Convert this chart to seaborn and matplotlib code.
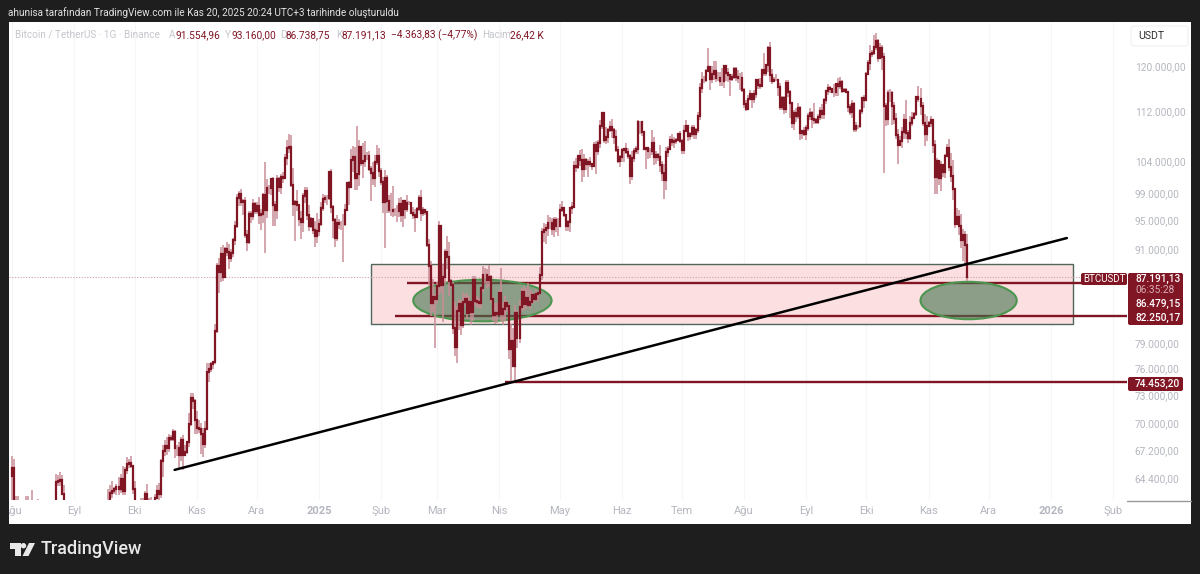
import numpy as np
import pandas as pd
import matplotlib
matplotlib.use('Agg')
import matplotlib.pyplot as plt
from matplotlib.patches import Rectangle, Ellipse, FancyBboxPatch, Polygon, Circle
from matplotlib.ticker import NullLocator
from matplotlib.transforms import IdentityTransform
import seaborn as sns

# daily closes in thousands of USDT, one row per month, Aug 2024 -> 20 Nov 2025
closes = [
    65.35,61.5,60.7,58.1,53.99,56.04,55.03,61.7,60.88,60.94,58.71,59.35,60.6,58.74,57.56,58.87,59.48,58.45,59.49,59.01,61.16,60.38,64.04,64.16,64.25,62.83,59.42,59.03,59.37,59.12,58.97,
    57.3,59.13,57.48,57.97,56.16,53.95,54.16,54.88,57.05,57.64,57.34,58.13,60.5,60.0,59.22,58.21,60.31,61.76,62.95,63.2,63.35,63.58,63.33,64.3,63.14,65.18,65.77,65.87,65.6,63.3,
    60.8,60.65,60.75,62.08,62.06,62.82,62.22,62.13,60.58,60.27,62.45,63.2,62.85,66.05,67.04,67.61,67.4,68.43,68.36,69.0,67.37,67.36,66.64,68.16,66.64,67.01,68.02,69.91,72.72,72.34,70.29,
    69.5,69.37,68.78,67.8,69.36,75.64,75.9,76.54,76.7,80.37,88.65,87.95,90.38,87.25,91.06,90.56,89.85,90.46,92.31,94.29,98.35,98.89,97.67,97.9,93.01,91.97,95.96,95.64,97.46,96.41,
    97.19,95.84,96.0,98.77,96.58,99.88,99.83,101.11,97.34,96.59,101.13,99.99,101.42,101.37,104.44,106.06,106.13,100.2,97.46,97.76,97.22,95.19,94.88,98.66,99.43,95.79,94.28,95.3,93.74,92.79,93.58,
    94.59,96.88,98.11,98.24,98.35,102.28,96.95,95.04,92.48,94.7,94.48,94.52,94.5,96.53,100.5,99.99,104.08,104.56,101.33,102.01,106.14,103.66,103.93,104.82,104.71,102.68,102.02,101.33,103.73,104.73,102.43,
    100.64,97.69,101.4,97.87,96.61,96.55,96.47,96.44,96.46,97.43,95.78,97.87,96.62,97.51,97.57,96.12,95.77,95.54,96.63,98.33,96.13,96.58,96.27,91.55,88.74,83.91,84.7,84.35,
    86.06,94.27,86.22,87.22,90.62,89.96,86.74,86.15,80.73,78.53,82.86,83.72,81.09,83.98,84.34,82.58,84.02,82.72,86.85,84.17,84.04,83.83,85.77,87.47,87.47,86.9,87.23,84.35,82.39,82.61,82.55,
    85.16,82.49,83.1,83.84,83.5,78.21,79.24,76.27,82.58,79.63,83.4,85.29,83.76,84.59,83.64,84.03,84.95,84.45,85.06,85.17,87.52,93.44,93.7,93.98,94.72,94.65,93.75,95.05,94.26,94.17,
    96.49,96.91,95.87,94.31,94.75,96.83,97.03,103.24,102.97,104.8,104.12,102.79,104.12,103.5,103.74,103.49,103.13,106.45,105.58,106.83,109.67,111.7,107.32,107.79,108.99,109.44,108.99,107.8,105.64,103.99,104.64,
    105.65,105.88,105.43,104.73,101.58,104.39,105.62,105.79,110.29,110.26,108.69,105.93,106.06,105.47,105.55,106.8,104.55,104.88,104.64,103.3,102.12,100.96,105.41,105.92,107.34,106.95,107.09,107.39,108.35,107.15,
    105.68,108.85,109.64,108.01,108.24,109.21,108.26,108.95,111.33,116.0,117.53,117.42,119.09,119.84,117.68,118.63,119.18,117.92,117.84,117.27,117.38,119.95,118.76,118.34,117.64,117.95,119.45,118.06,117.92,117.84,115.76,
    113.3,112.54,114.21,115.07,114.1,114.99,117.49,116.67,116.46,119.3,118.69,120.17,123.31,118.3,117.4,117.49,117.45,116.26,112.87,114.27,112.5,116.94,115.37,113.49,110.11,111.76,111.22,112.57,108.41,108.81,108.24,
    109.25,111.24,111.7,110.72,110.66,110.19,111.14,112.07,111.55,113.96,115.5,116.1,115.95,115.41,115.35,116.79,116.47,117.14,115.63,115.72,115.31,112.75,112.01,113.33,109.05,109.64,109.64,112.12,114.4,114.05,
    118.65,120.53,122.23,122.39,123.48,124.66,121.44,123.3,121.66,113.02,110.81,115.17,115.27,113.03,110.76,108.19,106.43,107.19,108.64,110.59,108.4,107.6,110.07,111.0,111.64,114.57,114.12,112.9,110.07,108.3,109.61,
    110.07,110.54,106.58,101.5,103.89,101.3,103.37,102.28,104.72,106.01,103.06,101.65,99.7,94.59,95.6,94.26,92.22,92.96,91.55,87.19,
]
# wick lengths above / below the candle body, thousands of USDT
upper_wick = [
    1.2,.9,1.2,2.0,4.0,1.8,1.7,1.0,1.0,.5,2.3,1.2,1.0,1.8,1.5,.8,.4,1.0,.5,2.0,.4,1.0,.8,.5,.7,.4,.9,1.0,2.4,.4,.3,
    .3,.4,1.9,.9,1.8,.4,.5,.2,1.0,.1,.4,.4,.2,.6,.5,.3,1.0,1.6,.8,.9,.2,.2,.9,.5,1.3,.3,.7,.4,.7,.1,
    .8,.9,.4,.4,.4,.3,1.0,.3,.5,.5,.4,.5,.7,.2,.7,.6,.9,.4,.3,.4,.2,.3,.6,.4,.6,.7,.1,1.1,.5,.5,.2,
    1.0,.8,.6,.7,.8,1.0,.7,.2,.1,.9,.5,1.2,.9,1.2,.2,.9,1.1,.6,.3,.7,.6,.4,.8,.2,.5,.7,.4,.4,.7,.3,
    .5,1.3,.7,.3,5.1,1.3,.4,.2,.3,.5,.6,.4,.5,.8,.7,1.3,2.2,2.0,2.6,.3,1.8,.2,1.2,.4,.6,.5,1.5,.3,.1,1.2,2.5,
    .6,.9,.8,.5,.4,.2,.4,.3,.3,1.1,.6,.5,1.4,.9,.2,.4,1.8,1.8,1.7,7.6,1.1,.2,2.9,2.3,.5,.8,.5,1.8,1.1,1.7,1.3,
    .4,.8,1.1,.4,.9,2.4,3.5,.4,.8,.9,1.1,.2,.2,1.3,.3,.1,.9,.9,.3,.5,1.2,.4,.1,.2,.9,.7,2.3,.4,
    .5,.7,.1,1.7,.4,2.2,2.0,.2,.4,3.3,.7,.7,.6,1.3,.7,.8,.7,.1,.6,.5,.6,.5,.2,1.3,1.0,.8,1.6,.3,.3,1.3,1.3,
    .4,3.3,.9,.9,.3,.3,2.0,1.5,1.0,.4,.9,.5,.8,1.2,1.9,1.5,.5,.1,.6,.1,1.1,.5,1.0,.5,1.1,.8,.8,.5,.5,1.1,
    .9,1.0,.1,.1,.4,.2,.7,.8,1.2,.1,.9,1.7,.9,.3,.5,.9,.2,.5,.7,.5,1.0,.3,.2,1.7,.3,1.0,1.3,.3,1.1,.7,.3,
    .3,.1,.9,.6,.3,1.1,.4,.6,.3,.1,.1,.1,.1,.1,.5,2.1,1.0,.7,.4,1.9,.7,1.3,.7,.4,.7,1.0,.7,.2,.1,.5,
    .4,.9,.9,.2,.3,.5,.5,.3,.6,.9,1.4,.7,.4,3.4,.1,1.4,1.7,1.7,1.0,1.0,2.3,.3,.3,.8,.2,.6,.3,.4,1.3,.9,1.1,
    .3,.7,.6,.7,.1,.7,.2,.1,1.2,.1,3.0,.1,.4,1.2,1.1,.5,1.1,.1,.7,.5,.5,.5,.5,.3,.2,.6,.8,.9,.4,.2,.7,
    .6,.6,.9,.5,2.7,.3,.5,.8,1.2,.3,.1,.7,.3,.2,1.4,.2,1.1,.8,.4,.4,.3,.1,.6,.7,.3,.7,.2,.3,.1,.4,
    .3,.5,1.7,.5,2.2,1.5,.4,.9,.5,.8,.4,.6,.7,.2,.6,1.1,1.0,.7,.8,1.1,3.4,.6,1.2,1.0,.3,.1,1.8,1.9,.7,1.5,1.6,
    .4,.7,.3,.7,.6,.3,.6,.1,.3,.6,1.5,2.2,2.5,.1,1.2,1.0,1.7,.8,.5,1.6,
]
lower_wick = [
    2.3,.2,.9,.9,5.0,.1,.4,.3,.6,.6,.4,1.8,.9,.6,1.5,.6,.1,.1,.5,.4,.2,.6,.4,.4,.5,.1,1.3,1.1,.2,1.3,1.1,
    1.1,.3,1.0,1.6,.4,.4,.3,.3,.3,.3,.3,.4,.3,.4,.8,.5,.4,1.1,.1,.5,.3,.6,.6,.4,.4,.4,.4,.4,.2,.4,
    .7,.8,.1,.1,.4,.1,.1,.3,.3,1.4,.2,.1,.8,.4,1.5,.5,.7,.4,.3,.3,1.0,.8,1.4,.6,1.5,.1,.2,.5,.2,.9,1.5,
    .7,.4,2.0,1.3,.4,.1,1.2,.3,.6,.2,.2,2.8,1.3,.5,.1,.5,1.5,.6,.5,.8,.3,1.2,.5,1.9,.4,1.2,.2,1.0,.6,.4,
    .5,1.3,2.2,1.3,6.1,1.2,.9,1.0,3.1,2.3,1.3,.8,1.1,.8,.2,1.1,.8,.2,1.8,5.3,.8,1.0,2.5,1.5,1.1,.7,.8,.3,.7,1.5,.9,
    .8,.4,.5,.6,.9,.4,.8,2.5,1.2,.3,.7,.8,5.2,.2,.1,2.7,.1,1.8,1.8,1.8,1.9,.5,2.4,.9,.6,.2,4.2,1.1,1.3,.4,.9,
    .4,1.6,6.5,1.8,.5,.9,.9,.7,1.7,1.0,.9,1.7,1.4,.3,.2,.1,.6,2.1,.1,.2,1.2,.4,.4,.3,2.7,1.6,1.2,6.0,
    .5,1.1,1.1,4.7,.9,1.6,2.0,.5,.7,1.1,1.9,2.3,1.2,.3,.4,.7,.1,1.6,1.1,.6,.8,.6,.6,.5,1.2,1.1,1.0,.5,.8,1.1,1.2,
    .2,.9,1.3,1.5,.8,1.1,3.7,.1,1.7,1.3,.7,.5,.8,.6,.1,.5,.3,.5,.1,1.1,.2,.6,1.5,2.0,1.1,.8,.8,1.0,.9,1.3,
    .1,.2,.3,.8,.8,1.4,.9,.1,.7,.2,1.0,2.1,1.3,1.0,2.0,.4,.5,.1,3.6,.7,.8,.5,.5,.6,.9,.4,1.3,1.1,.3,.3,.9,
    .9,1.9,.4,.5,1.2,.5,.6,.5,.7,1.9,.7,.2,3.2,1.2,1.1,.6,1.2,1.0,.7,1.0,1.3,2.8,1.4,.8,.1,.6,.9,.5,.2,.4,
    .6,.6,.2,.8,.7,.4,.8,.8,.5,.7,.8,.5,.2,.2,2.0,.8,1.2,.8,.5,.8,.9,1.3,1.5,1.2,2.9,.4,.2,.7,1.0,2.1,.3,
    .6,.5,.1,.2,1.4,.7,.7,.8,.6,.1,.5,.5,1.3,1.1,.6,.1,.2,1.6,.5,.5,.9,.8,.9,2.6,.8,1.1,.9,.4,1.1,1.0,.2,
    .9,.4,.6,1.4,.7,.2,.2,.5,.7,.7,.6,.7,.7,.2,.9,.6,1.7,.5,.5,.2,.1,.8,.5,1.0,.4,.4,.5,.4,.5,1.4,
    .1,.2,1.2,.6,.4,.6,.8,.1,2.3,11.0,1.2,1.1,1.6,3.3,.8,.7,2.9,.1,1.1,1.1,.9,.8,.3,.4,.1,.3,.5,1.4,.4,2.0,1.2,
    .1,.6,1.3,2.6,2.6,1.0,2.0,.8,.9,.2,.6,.9,1.7,.6,.1,1.3,1.0,2.9,2.9,.5,
]
first_open = 64.6

price_ticks = [120000, 112000, 104000, 99000, 95000, 91000, 79000, 76000, 73000, 70000, 67200, 64400]
price_labels = ['120.000,00', '112.000,00', '104.000,00', '99.000,00', '95.000,00', '91.000,00',
                '79.000,00', '76.000,00', '73.000,00', '70.000,00', '67.200,00', '64.400,00']
month_ticks = ['2024-08-01', '2024-09-01', '2024-10-01', '2024-11-01', '2024-12-01', '2025-01-01', '2025-02-01',
               '2025-03-01', '2025-04-01', '2025-05-01', '2025-06-01', '2025-07-01', '2025-08-01', '2025-09-01',
               '2025-10-01', '2025-11-01', '2025-12-01', '2026-01-01', '2026-02-01']
month_labels = ['Ağu', 'Eyl', 'Eki', 'Kas', 'Ara', '2025', 'Şub', 'Mar', 'Nis', 'May', 'Haz', 'Tem', 'Ağu',
                'Eyl', 'Eki', 'Kas', 'Ara', '2026', 'Şub']

last_price = 87191.13
level_prices = [86479.15, 82250.17, 74453.20]
level_starts = ['2025-02-14', '2025-02-08', '2025-04-04']
zone_days = ['2025-01-27', '2026-01-12']
zone_prices = [81270, 88970]
trend_days = ['2024-10-21', '2026-01-09']
trend_prices = [65200, 92540]
ellipse_days = [('2025-02-17', '2025-04-27'), ('2025-10-28', '2025-12-15')]
ellipse_prices = [(81600, 86900), (81860, 86620)]

BG = '#1e1e1e'
RED = '#801524'
WICK = '#c98e97'
GREY = '#b4b7bf'
FONT = ['Roboto', 'DejaVu Sans']
W, H = 1200, 574

sns.set_theme(style='white')
plt.rcParams['font.family'] = FONT


def to_day(d):
    return (pd.Timestamp(d) - pd.Timestamp('2025-01-01')).days


# candle table, two rows per candle for wicks and for bodies
c = np.array(closes) * 1000
o = np.r_[first_open * 1000, c[:-1]]
hi = np.maximum(o, c) + np.array(upper_wick) * 1000
lo = np.minimum(o, c) - np.array(lower_wick) * 1000
days = np.array([(x - pd.Timestamp('2025-01-01')).days for x in pd.date_range('2024-08-01', periods=len(c))])
wicks = pd.DataFrame({'day': np.r_[days, days], 'price': np.r_[lo, hi]})
bodies = pd.DataFrame({'day': np.r_[days, days], 'price': np.r_[o, c]})

fig = plt.figure(figsize=(W / 100, H / 100), dpi=100, facecolor=BG)
ax = fig.add_axes([9 / W, 1 - 500 / H, (1127 - 9) / W, (500 - 22) / H], facecolor='none')


def px_text(x, y, s, color=GREY, size=8, ha='left', **kw):
    fig.text(x / W, 1 - y / H, s, color=color, fontsize=size, ha=ha, va='center', zorder=8, **kw)


def px_box(x0, y0, x1, y1, color, edge='none', z=6, rounding=2):
    fig.add_artist(FancyBboxPatch((x0, H - y1), x1 - x0, y1 - y0, boxstyle=f'round,pad=0,rounding_size={rounding}',
                                  fc=color, ec=edge, lw=0.8, transform=IdentityTransform(), zorder=z))


fig.add_artist(Rectangle((9 / W, 1 - 524 / H), (1191 - 9) / W, (524 - 22) / H, transform=fig.transFigure,
                         fc='white', ec='none', zorder=-5))

ax.set_yscale('log')
ax.set_xlim((9 - 319) / 2.005, (1127 - 319) / 2.005)
ax.set_ylim(62300, 128250)

# zone, levels and last price line under the candles
ax.add_patch(Rectangle((to_day(zone_days[0]), zone_prices[0]), to_day(zone_days[1]) - to_day(zone_days[0]),
                       zone_prices[1] - zone_prices[0], fc='#fbdfe1', ec='#50685c', lw=1.0, zorder=1))
ax.axhline(last_price, color='#cfa3aa', lw=0.8, ls=(0, (1, 1.5)), zorder=1.5, xmax=0.968)
for p, s in zip(level_prices, level_starts):
    ax.plot([to_day(s), ax.get_xlim()[1]], [p, p], color=RED, lw=1.7, zorder=2, solid_capstyle='butt')

sns.lineplot(data=wicks, x='day', y='price', units='day', estimator=None, color=WICK, lw=1.1,
             ax=ax, legend=False, zorder=3, solid_capstyle='butt')
sns.lineplot(data=bodies, x='day', y='price', units='day', estimator=None, color=RED, lw=1.6,
             ax=ax, legend=False, zorder=4, solid_capstyle='projecting')

fig.canvas.draw()
for (d0, d1), (p0, p1) in zip(ellipse_days, ellipse_prices):
    x0, y0 = ax.transData.transform((to_day(d0), p0))
    x1, y1 = ax.transData.transform((to_day(d1), p1))
    ax.add_patch(Ellipse(((x0 + x1) / 2, (y0 + y1) / 2), x1 - x0, y1 - y0, transform=IdentityTransform(),
                         fc=(0.26, 0.45, 0.30, 0.6), ec='#4c9650', lw=1.5, zorder=2.5))

ax.plot([to_day(trend_days[0]), to_day(trend_days[1])], trend_prices, color='black', lw=1.8, zorder=5)

ax.set_yticks(price_ticks)
ax.set_yticklabels(price_labels)
ax.yaxis.set_minor_locator(NullLocator())
ax.yaxis.tick_right()
ax.tick_params(axis='y', length=0, pad=5.5, labelsize=7.3, labelcolor=GREY)
ax.set_xticks([to_day(d) for d in month_ticks])
ax.set_xticklabels(month_labels)
ax.tick_params(axis='x', length=0, pad=4.5, labelsize=8, labelcolor=GREY)
for lab in ax.get_xticklabels():
    if lab.get_text().startswith('20'):
        lab.set_fontweight('bold')
ax.grid(axis='x', color='#f6f6f8', lw=0.8)
ax.set_axisbelow(True)
ax.set_xlabel('')
ax.set_ylabel('')
sns.despine(ax=ax, left=True, right=True, top=True, bottom=True)

# covers the left end of the first month label
fig.add_artist(Rectangle((0, 1 - 524 / H), 9 / W, 24 / H, transform=fig.transFigure, fc=BG, ec='none', zorder=7))
fig.add_artist(plt.Line2D([1127 / W, 1191 / W], [1 - 500.5 / H] * 2, color='#9a9a9a', lw=1.0, zorder=6))

# header and legend row
px_text(8, 13, 'ahunisa tarafından TradingView.com ile Kas 20, 2025 20:24 UTC+3 tarihinde oluşturuldu',
        color='#e2e2e2', size=7.2)
px_text(15, 35, 'Bitcoin / TetherUS · 1G · Binance', color='#c4c6cc', size=7.2)
for x, s in [(169, 'A'), (225, 'Y'), (280, 'D'), (336, 'K'), (482, 'Hacim')]:
    px_text(x, 35, s, color='#c4c6cc', size=7.2)
for x, s in [(175, '91.554,96'), (231, '93.160,00'), (286, '86.738,75'), (341, '87.191,13'),
             (391, '−4.363,83 (−4,77%)'), (510, '26,42 K')]:
    px_text(x, 35, s, color=RED, size=7.3)

# price scale labels
px_box(1131, 26, 1188, 46, 'white', edge='#f0f0f2', rounding=3)
px_text(1138, 36, 'USDT', color='#303030', size=7.6)
px_box(1081, 273, 1127, 285, RED)
px_text(1104, 279, 'BTCUSDT', color='white', size=7, ha='center')
px_box(1128, 273, 1183, 325, RED)
px_text(1135, 279, '87.191,13', color='white', size=7.3, fontweight='medium')
px_text(1135, 290, '06:35:28', color='#d7aeb6', size=7.3)
px_text(1135, 304, '86.479,15', color='white', size=7.3, fontweight='medium')
px_text(1135, 318, '82.250,17', color='white', size=7.3, fontweight='medium')
px_box(1128, 377, 1183, 391, RED)
px_text(1135, 383.5, '74.453,20', color='white', size=7.3, fontweight='medium')

# TradingView logo in the footer
logo = '#e8e8e8'
fig.add_artist(Polygon([(10, H - 543), (20.5, H - 543), (20.5, H - 556), (15, H - 556), (15, H - 548.5), (10, H - 548.5)],
                       fc=logo, ec='none', transform=IdentityTransform(), zorder=6))
fig.add_artist(Circle((23.5, H - 545.7), 2.7, fc=logo, ec='none', transform=IdentityTransform(), zorder=6))
fig.add_artist(Polygon([(29, H - 543), (35, H - 543), (28.5, H - 556), (22.5, H - 556)],
                       fc=logo, ec='none', transform=IdentityTransform(), zorder=6))
px_text(41, 549, 'TradingView', color=logo, size=13, fontweight='medium')

fig.savefig('out.png', dpi=100, facecolor=BG)
